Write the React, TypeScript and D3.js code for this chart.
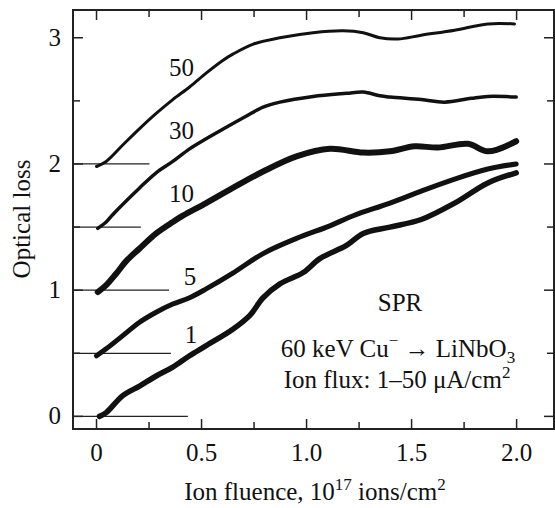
import React from 'react';
import * as d3 from 'd3';

// flux labels (uA/cm2) and their starting offsets
const fluxLabels = ['50', '30', '10', '5', '1'];
const offsets = [2.0, 1.5, 1.0, 0.5, 0.0];
const baselineEnds = [0.252, 0.211, 0.345, 0.354, 0.435];

const fluence50 = [0, 0.046, 0.125, 0.205, 0.284, 0.363, 0.443, 0.522, 0.601, 0.649, 0.746, 0.873, 1.031, 1.174, 1.27, 1.349, 1.435, 1.546, 1.705, 1.863, 1.99];
const loss50 = [1.98, 2.02, 2.15, 2.28, 2.4, 2.51, 2.61, 2.72, 2.82, 2.87, 2.95, 3.0, 3.04, 3.055, 3.04, 3.0, 2.99, 3.02, 3.06, 3.11, 3.11];

const fluence30 = [0.006, 0.046, 0.078, 0.205, 0.284, 0.363, 0.443, 0.522, 0.601, 0.714, 0.793, 0.873, 1.031, 1.19, 1.27, 1.349, 1.397, 1.546, 1.657, 1.784, 1.863, 1.998];
const loss30 = [1.49, 1.54, 1.6, 1.81, 1.93, 2.02, 2.12, 2.2, 2.275, 2.38, 2.45, 2.49, 2.535, 2.56, 2.57, 2.54, 2.53, 2.51, 2.49, 2.52, 2.535, 2.53];

const fluence10 = [0.006, 0.046, 0.093, 0.141, 0.205, 0.284, 0.363, 0.411, 0.522, 0.649, 0.793, 0.952, 1.111, 1.27, 1.397, 1.514, 1.625, 1.768, 1.863, 1.998];
const loss10 = [0.985, 1.04, 1.13, 1.23, 1.33, 1.45, 1.54, 1.59, 1.69, 1.81, 1.94, 2.06, 2.12, 2.09, 2.1, 2.14, 2.13, 2.16, 2.1, 2.18];

const fluence5 = [0, 0.046, 0.125, 0.205, 0.284, 0.363, 0.443, 0.522, 0.649, 0.793, 0.952, 1.111, 1.222, 1.397, 1.546, 1.705, 1.863, 1.998];
const loss5 = [0.48, 0.535, 0.64, 0.746, 0.825, 0.89, 0.94, 1.01, 1.135, 1.29, 1.41, 1.51, 1.59, 1.69, 1.785, 1.88, 1.96, 2.0];

const fluence1 = [0.014, 0.046, 0.125, 0.205, 0.284, 0.363, 0.443, 0.522, 0.649, 0.73, 0.793, 0.873, 0.984, 1.063, 1.19, 1.27, 1.397, 1.546, 1.705, 1.863, 1.998];
const loss1 = [0.0, 0.03, 0.165, 0.24, 0.32, 0.39, 0.48, 0.56, 0.69, 0.8, 0.94, 1.05, 1.14, 1.25, 1.355, 1.45, 1.5, 1.56, 1.69, 1.85, 1.93];

const xMajor = [0, 0.5, 1.0, 1.5, 2.0];
const xMinor = [0.25, 0.75, 1.25, 1.75];
const xTickLabels = ['0', '0.5', '1.0', '1.5', '2.0'];
const yMajor = [0, 1, 2, 3];
const yMinor = [0.5, 1.5, 2.5];

const W = 555;
const H = 508;
const margin = { left: 73, right: 1, top: 10, bottom: 79 };
const font = '"Liberation Serif", "Times New Roman", serif';
const ink = '#111';

export default function App() {
  const x = d3.scaleLinear().domain([-0.112, 2.178]).range([margin.left, W - margin.right]);
  const y = d3.scaleLinear().domain([-0.1, 3.22]).range([H - margin.bottom, margin.top]);

  const series = [
    { xs: fluence50, ys: loss50, w: 3 },
    { xs: fluence30, ys: loss30, w: 3.5 },
    { xs: fluence10, ys: loss10, w: 6 },
    { xs: fluence5, ys: loss5, w: 5 },
    { xs: fluence1, ys: loss1, w: 5.5 },
  ];

  const line = d3.line<[number, number]>()
    .x(d => x(d[0]))
    .y(d => y(d[1]))
    .curve(d3.curveCatmullRom.alpha(0.5));

  const [x0, x1] = x.range();
  const [yb, yt] = y.range();

  // curve label positions in data units
  const labelPos: [number, number][] = [[0.405, 2.7], [0.405, 2.2], [0.405, 1.7], [0.445, 1.04], [0.45, 0.58]];

  return (
    <svg width={W} height={H} style={{ position: 'absolute', left: 0, top: 0 }} fontFamily={font}>
      <rect width={W} height={H} fill="white" />

      {/* baselines */}
      {offsets.map((o, i) => (
        <line key={'b' + i} x1={x0} x2={x(baselineEnds[i])} y1={y(o)} y2={y(o)} stroke="#222" strokeWidth={1.3} />
      ))}

      {/* curves */}
      {series.map((s, i) => (
        <path key={'c' + i}
          d={line(s.xs.map((v, j) => [v, s.ys[j]] as [number, number])) || ''}
          fill="none" stroke={ink} strokeWidth={s.w}
          strokeLinejoin="round" strokeLinecap="round" />
      ))}

      {/* frame */}
      <rect x={x0} y={yt} width={x1 - x0} height={yb - yt} fill="none" stroke="#222" strokeWidth={2} />

      {/* x ticks, bottom and top */}
      {xMajor.map(v => (
        <g key={'xm' + v}>
          <line x1={x(v)} x2={x(v)} y1={yb} y2={yb - 10} stroke="#222" strokeWidth={1.5} />
          <line x1={x(v)} x2={x(v)} y1={yt} y2={yt + 10} stroke="#222" strokeWidth={1.5} />
        </g>
      ))}
      {xMinor.map(v => (
        <g key={'xn' + v}>
          <line x1={x(v)} x2={x(v)} y1={yb} y2={yb - 7} stroke="#222" strokeWidth={1.5} />
          <line x1={x(v)} x2={x(v)} y1={yt} y2={yt + 7} stroke="#222" strokeWidth={1.5} />
        </g>
      ))}
      {/* y ticks, left and right */}
      {yMajor.map(v => (
        <g key={'ym' + v}>
          <line x1={x0} x2={x0 + 10} y1={y(v)} y2={y(v)} stroke="#222" strokeWidth={1.5} />
          <line x1={x1} x2={x1 - 10} y1={y(v)} y2={y(v)} stroke="#222" strokeWidth={1.5} />
        </g>
      ))}
      {yMinor.map(v => (
        <g key={'yn' + v}>
          <line x1={x0} x2={x0 + 7} y1={y(v)} y2={y(v)} stroke="#222" strokeWidth={1.5} />
          <line x1={x1} x2={x1 - 7} y1={y(v)} y2={y(v)} stroke="#222" strokeWidth={1.5} />
        </g>
      ))}

      {/* tick labels */}
      {xMajor.map((v, i) => (
        <text key={'xl' + v} x={x(v)} y={461} textAnchor="middle" fontSize={25} fill={ink}>{xTickLabels[i]}</text>
      ))}
      {yMajor.map(v => (
        <text key={'yl' + v} x={61} y={y(v) + 8} textAnchor="end" fontSize={25} fill={ink}>{String(v)}</text>
      ))}

      {/* axis titles */}
      <text x={315} y={500} textAnchor="middle" fontSize={25} fill={ink}>
        Ion fluence, 10<tspan dy={-10} fontSize={17}>17</tspan><tspan dy={10}> ions/cm</tspan><tspan dy={-10} fontSize={17}>2</tspan>
      </text>
      <text transform="translate(30,219) rotate(-90)" textAnchor="middle" fontSize={25} fill={ink}>Optical loss</text>

      {/* curve labels */}
      {fluxLabels.map((l, i) => (
        <text key={'l' + i} x={x(labelPos[i][0])} y={y(labelPos[i][1])} textAnchor="middle" fontSize={25} fill={ink}>{l}</text>
      ))}

      {/* annotation */}
      <text x={400} y={311} textAnchor="middle" fontSize={25} fill={ink}>SPR</text>
      <text x={398} y={357} textAnchor="middle" fontSize={25} fill={ink}>
        60 keV Cu<tspan dy={-11} fontSize={17}>−</tspan><tspan dy={11}> → LiNbO</tspan><tspan dy={6} fontSize={17}>3</tspan>
      </text>
      <text x={397} y={388} textAnchor="middle" fontSize={25} fill={ink}>
        Ion flux: 1–50 μA/cm<tspan dy={-10} fontSize={17}>2</tspan>
      </text>
    </svg>
  );
}
